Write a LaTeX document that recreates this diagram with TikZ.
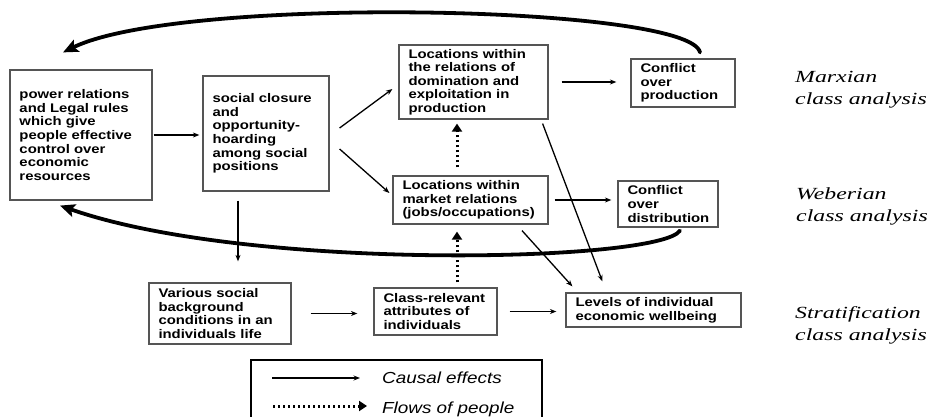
\documentclass[tikz,border=0pt]{standalone}
\usepackage{fontspec}
\newfontfamily\boxfont[FakeStretch=1.19]{Liberation Sans}
\newfontfamily\legfont[FakeStretch=1.18]{Liberation Sans Italic}
\newfontfamily\sidefont[FakeStretch=1.4]{Liberation Serif Italic}
\usepackage{tikz}
\usetikzlibrary{arrows.meta}
\definecolor{boxgray}{RGB}{85,85,85}
\tikzstyle{box} = [draw=boxgray, line width=1.2pt, align=left, inner xsep=9.5pt, inner ysep=0pt, font=\boxfont\bfseries\fontsize{12.5}{13.6}\selectfont]
\tikzstyle{arrow} = [line width=1.3pt, -{Stealth[length=6.5pt,width=5pt]}]
\tikzstyle{flow} = [line width=3pt, dash pattern=on 2.2pt off 2.8pt, -{Triangle[length=8pt,width=10pt]}]
\tikzstyle{feedback} = [line width=3.8pt, line cap=round, -{Stealth[length=15pt,width=13pt,inset=3pt]}]
\tikzstyle{side} = [anchor=north west, inner sep=0pt, align=left, font=\sidefont\fontsize{17}{22}\selectfont]
\tikzstyle{legend} = [anchor=base west, inner sep=0pt, font=\legfont\fontsize{16}{18}\selectfont]

\begin{document}
\begin{tikzpicture}[x=1pt, y=-1pt]
	\useasboundingbox (0,0) rectangle (940,417);
	% boxes
	\node[box, text width=123pt, minimum height=130pt] (power) at (81,135) {power relations\\and Legal rules\\which give\\people effective\\control over\\economic\\resources};
	\node[box, text width=107pt, minimum height=115pt] (closure) at (266,133.5) {social closure\\and\\opportunity-\\hoarding\\among social\\positions};
	\node[box, text width=130pt, minimum height=74pt] (domination) at (473.5,82) {Locations within\\the relations of\\domination and\\exploitation in\\production};
	\node[box, text width=85pt, minimum height=48pt] (confprod) at (683,83) {Conflict\\over\\production};
	\node[box, text width=136pt, minimum height=48pt] (market) at (470.5,200) {Locations within\\market relations\\(jobs/occupations)};
	\node[box, text width=81pt, minimum height=46pt] (confdist) at (668,204) {Conflict\\over\\distribution};
	\node[box, text width=123pt, minimum height=61pt] (various) at (220,313.5) {Various social\\background\\conditions in an\\individuals life};
	\node[box, text width=104pt, minimum height=47pt] (attributes) at (435.5,311.5) {Class-relevant\\attributes of\\individuals};
	\node[box, text width=156pt, minimum height=34pt] (levels) at (653.5,310) {Levels of individual\\economic wellbeing};
	% labels on the right
	\node[side] (marx) at (795,71) {Marxian\\class analysis};
	\node[side] (weber) at (796,188) {Weberian\\class analysis};
	\node[side] (strat) at (795,306) {Stratification\\class analysis};
	% causal effects
	\draw[arrow, shorten <=1pt, shorten >=3pt] (power.east) -- (power.east -| closure.west);
	\draw[arrow] ([xshift=10pt,yshift=5.5pt]closure.east) -- ([xshift=-6pt,yshift=-7pt]domination.west);
	\draw[arrow] ([xshift=10pt,yshift=-15.5pt]closure.east) -- ([xshift=-3pt,yshift=7pt]market.west);
	\draw[arrow, shorten <=13pt, shorten >=14pt] (domination.east) -- (domination.east -| confprod.west);
	\draw[arrow, shorten <=6pt, shorten >=6pt] (market.east) -- (market.east -| confdist.west);
	\draw[arrow, shorten <=9pt, shorten >=21pt] ([xshift=-28pt]closure.south) -- ([xshift=-28pt]closure.south |- various.north);
	\draw[arrow, shorten <=19pt, shorten >=16pt] (various.east) -- (various.east -| attributes.west);
	\draw[arrow, shorten <=12pt, shorten >=9pt] (attributes.east) -- (attributes.east -| levels.west);
	\draw[arrow] ([xshift=-6pt,yshift=-4pt]domination.south east) -- ([xshift=37pt,yshift=11pt]levels.north west);
	\draw[arrow] ([xshift=51.5pt,yshift=-6pt]market.south) -- ([xshift=7pt,yshift=6pt]levels.north west);
	% flows of people
	\draw[flow, shorten <=5pt, shorten >=7pt] ([xshift=21.5pt]attributes.north) -- ([xshift=21.5pt]attributes.north |- market.south);
	\draw[flow, shorten <=8pt, shorten >=4pt] ([xshift=-13.5pt]market.north) -- ([xshift=-13.5pt]market.north |- domination.south);
	% feedback loops
	\draw[feedback] ([xshift=17pt,yshift=6pt]confprod.north) .. controls (690,5) and (180,-5) .. ([xshift=-18pt,yshift=17pt]power.north);
	\draw[feedback] ([xshift=12pt,yshift=-3pt]confdist.south) .. controls (660,262) and (250,272) .. ([xshift=-21pt,yshift=-5pt]power.south);
	% legend
	\draw[line width=1.4pt] (251,360) rectangle (542,440);
	\node[legend] (causal) at (382,383) {Causal effects};
	\node[legend] (flows) at (382,413) {Flows of people};
	\coordinate (c0) at (272,378);
	\coordinate (f0) at (273,406);
	\draw[arrow, shorten >=22pt] (c0) -- (c0 -| causal.west);
	\draw[flow, shorten >=15pt] (f0) -- (f0 -| flows.west);
\end{tikzpicture}
\end{document}
